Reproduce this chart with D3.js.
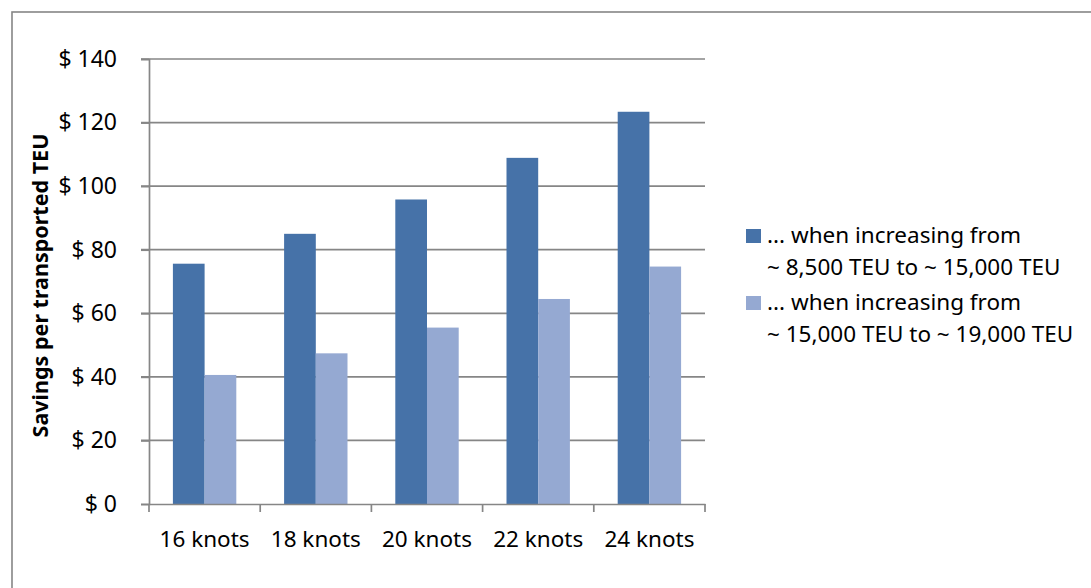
<!DOCTYPE html>
<html>
<head>
<meta charset="utf-8">
<script src="https://cdn.jsdelivr.net/npm/d3@7"></script>
<style>
  html, body { margin: 0; padding: 0; background: #fff; }
  svg { display: block; }
  text { font-family: "Noto Sans", "Open Sans", sans-serif; fill: #000; }
</style>
</head>
<body>
<svg id="chart" width="1091" height="588"></svg>
<script>
const categories = ["16 knots", "18 knots", "20 knots", "22 knots", "24 knots"];
const seriesNames = [
  ["... when increasing from", "~ 8,500 TEU to ~ 15,000 TEU"],
  ["... when increasing from", "~ 15,000 TEU to ~ 19,000 TEU"]
];
const series1 = [75.6, 85.0, 95.8, 108.9, 123.4];
const series2 = [40.6, 47.4, 55.5, 64.5, 74.7];
const yTicks = [0, 20, 40, 60, 80, 100, 120, 140];
const yTitle = "Savings per transported TEU";
const colors = ["#4672A8", "#95A9D2"];

const svg = d3.select("#chart");
const grey = "#868686";

// outer chart border (clipped at right/bottom like the reference)
svg.append("rect")
  .attr("x", 12).attr("y", 12)
  .attr("width", 1200).attr("height", 700)
  .attr("fill", "none").attr("stroke", grey).attr("stroke-width", 1.6);

const plot = { left: 149, right: 705, top: 59, bottom: 504 };

const y = d3.scaleLinear().domain([0, 140]).range([plot.bottom, plot.top]);
const x0 = d3.scaleBand().domain(categories).range([plot.left, plot.right]).padding(0);
const x1 = d3.scaleBand().domain([0, 1]).range([0, x0.bandwidth()])
  .paddingInner(0).paddingOuter(0.754);

// gridlines
svg.append("g").selectAll("line").data(yTicks.filter(d => d > 0)).join("line")
  .attr("x1", plot.left - 8).attr("x2", plot.right)
  .attr("y1", d => y(d)).attr("y2", d => y(d))
  .attr("stroke", grey).attr("stroke-width", 1.7);

// bars
const data = categories.map((c, i) => ({ c, v: [series1[i], series2[i]] }));
const groups = svg.append("g").selectAll("g").data(data).join("g")
  .attr("transform", d => `translate(${x0(d.c)},0)`);
groups.selectAll("rect").data(d => d.v.map((v, k) => ({ v, k }))).join("rect")
  .attr("x", d => x1(d.k))
  .attr("width", x1.bandwidth())
  .attr("y", d => y(d.v))
  .attr("height", d => y(0) - y(d.v))
  .attr("fill", d => colors[d.k]);

// y axis
const yAxis = d3.axisLeft(y).tickValues(yTicks).tickSize(8).tickPadding(24)
  .tickFormat(d => "$ " + d);
const gy = svg.append("g").attr("transform", `translate(${plot.left},0)`).call(yAxis);
gy.select(".domain").attr("stroke", grey).attr("stroke-width", 1.7);
gy.selectAll(".tick line").attr("stroke", grey).attr("stroke-width", 1.7);
gy.selectAll(".tick text").attr("font-size", 23).attr("font-family", "Noto Sans").attr("fill", "#000");

// x axis
const xAxis = d3.axisBottom(x0).tickSize(0).tickPadding(0);
const gx = svg.append("g").attr("transform", `translate(0,${plot.bottom})`).call(xAxis);
gx.select(".domain").attr("stroke", grey).attr("stroke-width", 1.7);
gx.selectAll(".tick text").attr("font-size", 22.5).attr("font-family", "Noto Sans")
  .attr("fill", "#000").attr("y", 43).attr("dy", 0);
// boundary ticks between categories
const boundaries = categories.map(c => x0(c)).concat([plot.right]);
gx.append("g").selectAll("line").data(boundaries).join("line")
  .attr("x1", d => d).attr("x2", d => d).attr("y1", 0).attr("y2", 8)
  .attr("stroke", grey).attr("stroke-width", 1.7);

// y title
svg.append("text")
  .attr("transform", `translate(48,${(plot.top + plot.bottom) / 2 + 4}) rotate(-90)`)
  .attr("text-anchor", "middle")
  .attr("font-size", 21.5).attr("font-weight", "bold")
  .text(yTitle);

// legend
const legend = svg.append("g");
const legY = [243, 310];
seriesNames.forEach((lines, k) => {
  legend.append("rect")
    .attr("x", 746).attr("y", legY[k] - 14)
    .attr("width", 15).attr("height", 14)
    .attr("fill", colors[k]);
  lines.forEach((t, j) => {
    legend.append("text")
      .attr("x", 767).attr("y", legY[k] + j * 32)
      .attr("font-size", 22.5)
      .text(t);
  });
});
</script>
</body>
</html>
